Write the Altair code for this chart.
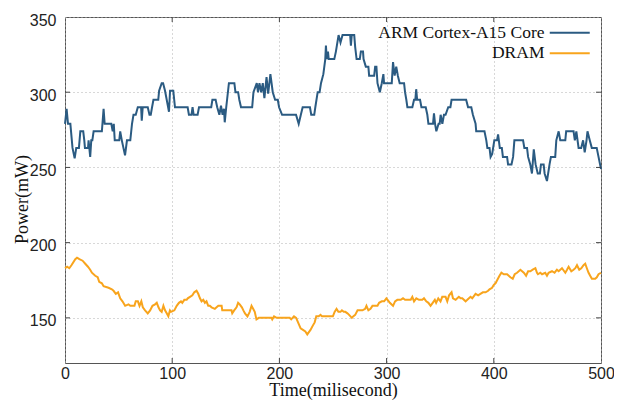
import altair as alt
import pandas as pd

# (time ms, power mW)
core_points = [(0,279),(1.5,289),(2.8,279),(5,279),(7,263),(9,256),(10.5,263),(13,263),(14.3,274),(17,274),(18,268),(18.6,263),(21.5,263),(22,268),(23.5,257),(24.5,268),(25.5,268),(26.7,274),(34.4,274),(36,289),(37,279),(43.2,279),(44.5,274),(45.5,279),(46.4,268),(50.6,268),(51.5,274),(53,268),(56,258),(57.8,268),(60.9,268),(62.5,279),(63.9,285),(66,285),(67.9,290),(71,290),(71.6,281),(72.5,290),(77.2,290),(78.8,285),(80,285),(81.2,290),(82.5,295),(87,295),(87.8,301),(90.2,306),(91.5,306),(93.3,301),(97,287),(98,301),(101,301),(102.6,290),(114.4,290),(115.6,285),(118,285),(119,290),(120,285),(123.7,285),(125,290),(136.4,290),(137.5,295),(140.5,295),(142,290),(144,285),(145.5,291),(147,285),(148.3,289),(149,280),(150.4,290),(152.9,306),(158,306),(159,300),(161.5,300),(162.6,295),(164.2,290),(174.6,290),(175.8,300),(178.9,306),(180,300),(181.4,306),(183,300),(184.5,306),(186,296),(188,310),(189.5,299),(191.6,312),(193.8,300),(196,295),(198.5,295),(199.7,290),(202.5,285),(215.5,285),(218,279),(220,285),(221.7,290),(228.5,290),(229.7,285),(232.5,285),(233.5,290),(235.7,300),(237.5,300),(238.8,306),(241,312),(242.8,322),(243.4,331),(244.2,322),(245.3,327),(246,322),(251.2,322),(252.7,327),(255.2,338),(257,333),(258.9,338),(266,338),(266.7,331),(267.5,338),(269.8,338),(270.7,330),(272,322),(275,322),(276,327),(278,327),(278.5,322),(280.6,317),(283,317),(283.7,311),(288.4,311),(289.3,317),(290.5,317),(291.5,306),(293.7,300),(295.5,306),(297,312),(297.6,306),(304.8,306),(306,320),(307.5,311),(309,317),(310.5,311),(312.2,306),(316.3,306),(317.2,300),(318.4,295),(319.4,290),(324,290),(325.6,295),(326.8,295),(327.6,302),(328.5,295),(331.2,295),(332.5,290),(336.5,290),(338,285),(339,279),(343.3,279),(344.2,286),(345.2,279),(346.4,274),(348.5,279),(349.5,279),(350.4,285),(352,279),(353.5,285),(355,285),(357.5,290),(359.5,290),(360.6,295),(374.2,295),(376,290),(379,290),(380.5,285),(383,279),(383.6,274),(391.3,274),(393,268),(394,263),(396,263),(397,257),(398.5,259),(400.5,268),(403,268),(404,272),(405.6,263),(407.5,263),(408.5,257),(412.4,257),(413.3,252),(416.5,252),(418,257),(419.2,268),(427.3,268),(428.5,263),(431,263),(432,257),(434,252),(435.6,246),(437.3,262),(439,252),(441,246),(443,246),(444,252),(446.5,252),(447.4,246),(449.6,241),(452,252),(453.3,257),(457.3,257),(458.3,268),(460.5,274),(462,268),(466.7,268),(467.5,274),(474.4,274),(475.6,268),(477,274),(479.1,263),(481.5,263),(483.3,268),(484.8,260),(486.5,268),(487.4,274),(489.5,268),(491.4,263),(496,263),(497.7,257),(500,249)]

dram_points = [(0,183),(2,184),(4,183),(6,185),(9.6,189),(11.2,190),(13.4,189),(16.4,188),(18.9,186),(21.4,184),(23.5,182),(25.1,180),(28.2,178),(30.5,177),(31.9,174),(34.4,173),(36,171),(40.6,170),(43.7,169),(45.3,168),(47.4,166),(49.5,167),(51.5,163),(53.6,161),(56.1,158),(59.2,159),(60.9,158),(64.8,158),(66,161),(68,161),(69.5,158),(71.2,161),(72.6,157),(74.7,155),(77.2,153),(79.4,155),(81.6,158),(84,159),(85.6,160),(87.2,157),(88.7,155),(90.2,154),(91.8,158),(93.3,155),(94.9,153),(96.4,151),(97.9,155),(99,154),(102,155),(104.2,158),(106.3,160),(108.2,161),(109.4,160),(111.3,162),(113.5,162),(114.5,163),(116.6,164),(118.8,165),(120.6,167),(122.7,168),(124.3,166),(125.9,163),(127.4,161),(129,162),(130.5,160),(132,161),(133.6,158),(135.1,158),(136.7,157),(139.8,156),(141.4,157),(143,158),(146.1,158),(146.7,155),(155.3,155),(156,153),(157.8,155),(160,157),(161.5,160),(163,159),(165,157),(166.4,155),(167.9,153),(170.2,151),(172.3,154),(174,158),(175.5,156),(177,154),(178.6,149),(180.8,150),(192.6,150),(193.3,149),(195,151),(197.4,150),(199,150),(209.6,150),(211,149),(213.6,151),(215.6,150),(218,146),(219.8,143),(222,142),(224.2,141),(226,139),(228,141),(229,142),(231.3,145),(232.9,147),(234.4,151),(236.6,151),(238.4,152),(239.7,151),(249.9,151),(251.5,154),(253.3,156),(255,154),(257,154),(258.3,155),(260,154),(261.5,154),(263.5,153),(265,152),(267.6,150),(268.8,151),(270.7,152),(272.9,155),(277.5,155),(280,156),(281.2,158),(283,155),(285,156),(286.8,158),(288.4,158),(291.5,158),(293,160),(295.5,161),(297.7,161),(299.8,163),(302,161),(303,160),(306,158),(307.9,161),(310,162),(313.2,162),(315.3,163),(317.2,162),(322.5,162),(324,164),(325.6,161),(327.7,163),(330.2,162),(333.3,162),(334.9,163),(337,161),(339,160),(341,158),(343,160),(345,162),(346.2,160),(348.2,163),(350.3,161),(351.9,164),(355,164),(356.6,161),(358.3,165),(360.6,167),(361.9,163),(364.4,162),(367.4,164),(369,163),(370.6,163),(373.7,161),(375.3,162),(378.3,164),(379.9,163),(383,166),(385.4,165),(387.5,166),(389.8,167),(392.3,167),(394.7,168),(396,169),(398.4,170),(400,172),(401.6,173),(403.1,175),(405.3,178),(407.1,180),(409.3,179),(412.4,179),(415.5,177),(417.7,176),(419.5,179),(421.7,180),(424.8,182),(426.4,181),(428,180),(430.1,178),(432,181),(434.1,181),(436.3,182),(438.8,183),(440.3,180),(441.2,179),(443.4,180),(445,179),(448,180),(449.6,178),(451.1,180),(454.3,181),(456.7,180),(458.9,182),(460.5,181),(463.6,183),(466.7,180),(468.3,182),(469.8,184),(472.3,181),(474.4,182),(476,183),(477.6,185),(479.7,182),(481.6,183),(483.7,185),(485.3,186),(486.8,183),(488.4,180),(489.9,178),(491.5,176),(494.6,176),(496.1,177),(497.7,179),(500,180)]

series_names = ["ARM Cortex-A15 Core", "DRAM"]
series_colors = ["#2b5b82", "#f8a41c"]

x_ticks = [0, 100, 200, 300, 400, 500]
y_ticks = [150, 200, 250, 300, 350]

rows = []
for name, pts in zip(series_names, [core_points, dram_points]):
    for i, (t, p) in enumerate(pts):
        rows.append({"time": t, "power": p, "series": name, "order": i})
df = pd.DataFrame(rows)

W, H = 536, 346
xs = alt.Scale(domain=[0, 500], nice=False)
ys = alt.Scale(domain=[120, 350], nice=False, zero=False)

lines = alt.Chart(df).mark_line(strokeWidth=2).encode(
    x=alt.X("time:Q", scale=xs, title="Time(milisecond)",
            axis=alt.Axis(values=x_ticks, labelPadding=2, labelFlush=False,
                          titleX=W / 2, titleY=32.5, titleBaseline="alphabetic")),
    y=alt.Y("power:Q", scale=ys, title="Power(mW)",
            axis=alt.Axis(values=y_ticks, labelPadding=9, labelOffset=3, labelFlush=False,
                          titleX=-43, titleY=182, titleBaseline="middle", titleAngle=270)),
    color=alt.Color("series:N", scale=alt.Scale(domain=series_names, range=series_colors),
                    legend=alt.Legend(orient="none", legendX=496, legendY=7, title=None,
                                      symbolType="M-4,0H4", symbolSize=100, symbolStrokeWidth=2,
                                      labelAlign="right", labelOffset={"expr": "-34"}, labelFontSize=17.5,
                                      labelFont="Liberation Serif", labelColor="#111", labelLimit=400,
                                      rowPadding=1.5, padding=0)),
    order="order:Q",
)

xt = pd.DataFrame({"v": x_ticks[1:-1]})
yt = pd.DataFrame({"v": y_ticks[:-1]})
tick_col = "#444"
xb = alt.Chart(xt).mark_rule(color=tick_col).encode(x=alt.X("v:Q", scale=xs), y=alt.value(H), y2=alt.value(H - 5))
xtp = alt.Chart(xt).mark_rule(color=tick_col).encode(x=alt.X("v:Q", scale=xs), y=alt.value(0), y2=alt.value(5))
yl = alt.Chart(yt).mark_rule(color=tick_col).encode(y=alt.Y("v:Q", scale=ys), x=alt.value(0), x2=alt.value(5))
yr = alt.Chart(yt).mark_rule(color=tick_col).encode(y=alt.Y("v:Q", scale=ys), x=alt.value(W), x2=alt.value(W - 5))

chart = alt.layer(lines, xb, xtp, yl, yr).properties(
    width=W, height=H,
    autosize=alt.AutoSizeParams(type="none"),
    padding={"left": 57, "top": 9, "right": 13, "bottom": 37},
).configure_view(stroke="#555", strokeWidth=1).configure_axis(
    grid=True, gridDash=[1, 3], gridColor="#b0b0b0", gridOpacity=1,
    domain=False, ticks=False,
    labelFont="Liberation Sans", labelFontSize=16, labelColor="#222",
    titleFont="Liberation Serif", titleFontSize=18, titleFontWeight="normal", titleColor="#111",
)

chart.save("out.html", embed_options={"renderer": "svg", "actions": False})
